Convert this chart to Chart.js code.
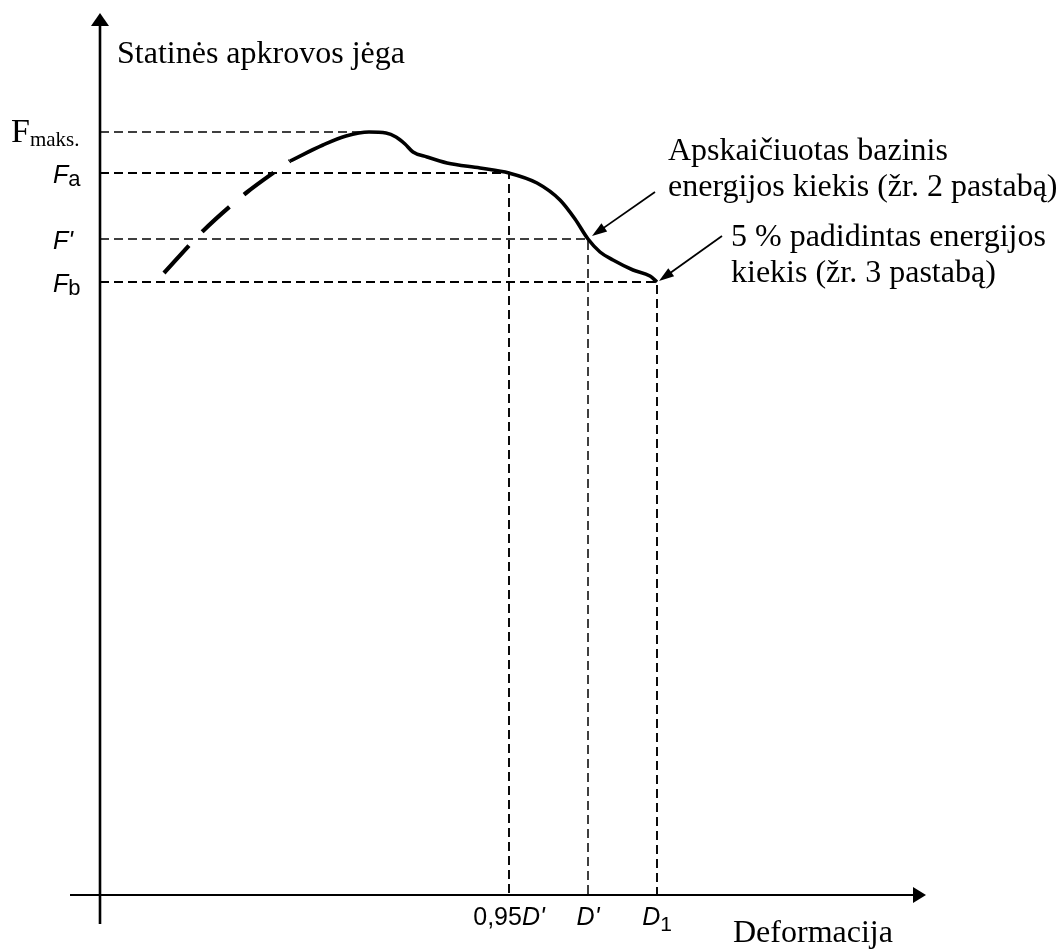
<!DOCTYPE html>
<html>
<head>
<meta charset="utf-8">
<script src="https://cdn.jsdelivr.net/npm/chart.js@4"></script>
<style>
  body { margin: 0; background: #fff; }
</style>
</head>
<body>
<canvas id="chart" width="1064" height="949"></canvas>
<script>
// rising (dashed) start of the load curve
const riseDef = [6.4, 10.3, 14.6, 19.0];
const riseForce = [62.2, 66.4, 70.2, 73.4];

// main load curve
const curveDef = [19.0, 22.3, 24.6, 26.9, 28.6, 29.6, 30.5, 31.3, 32.7, 34.7, 38.0, 40.9,
  43.7, 46.0, 47.5, 48.8, 50.0, 51.3, 53.3, 55.0, 55.7];
const curveForce = [73.4, 75.0, 75.9, 76.3, 76.2, 75.8, 75.1, 74.3, 73.8, 73.2, 72.7, 72.2,
  71.2, 69.5, 67.6, 65.6, 64.3, 63.5, 62.5, 61.9, 61.3];

// marked force levels (F maks., Fa, F', Fb) and where they meet the curve
const forceLabels = [['F', 'maks.'], ['F', 'a'], ["F'", ''], ['F', 'b']];
const forceLevels = [76.3, 72.2, 65.6, 61.3];
const deformLevels = [26.9, 40.9, 48.8, 55.7];
const deformLabels = ["0,95D'", "D'", 'D1'];

const axisTitles = ['Statinės apkrovos jėga', 'Deformacija'];
const notes = [
  ['Apskaičiuotas bazinis', 'energijos kiekis (žr. 2 pastabą)'],
  ['5 % padidintas energijos', 'kiekis (žr. 3 pastabą)']
];

const SERIF = '"Liberation Serif", "Times New Roman", serif';
const SANS = '"Liberation Sans", Arial, sans-serif';

const pts = (xs, ys) => xs.map((x, i) => ({ x: x, y: ys[i] }));

const refSets = forceLevels.map((f, i) => {
  const d = deformLevels[i];
  const data = i === 0 ? [{ x: 0, y: f }, { x: d, y: f }]
                       : [{ x: 0, y: f }, { x: d, y: f }, { x: d, y: 0 }];
  return {
    data: data,
    showLine: true,
    borderColor: '#000',
    borderWidth: (i === 1 || i === 3) ? 1.9 : 1.5,
    borderDash: [9, 5],
    tension: 0,
    pointRadius: 0
  };
});

function arrow(ctx, x1, y1, x2, y2, len, half) {
  const a = Math.atan2(y2 - y1, x2 - x1);
  ctx.beginPath();
  ctx.moveTo(x1, y1);
  ctx.lineTo(x2 - Math.cos(a) * len * 0.8, y2 - Math.sin(a) * len * 0.8);
  ctx.stroke();
  ctx.beginPath();
  ctx.moveTo(x2, y2);
  ctx.lineTo(x2 - Math.cos(a) * len - Math.sin(a) * half, y2 - Math.sin(a) * len + Math.cos(a) * half);
  ctx.lineTo(x2 - Math.cos(a) * len + Math.sin(a) * half, y2 - Math.sin(a) * len - Math.cos(a) * half);
  ctx.closePath();
  ctx.fill();
}

// draw a row of text runs, each {t, font, dy}; align 'left' or 'center'
function runs(ctx, list, x, y, align) {
  let w = 0;
  list.forEach(r => { ctx.font = r.font; w += ctx.measureText(r.t).width; });
  let cx = align === 'center' ? x - w / 2 : x;
  list.forEach(r => {
    ctx.font = r.font;
    ctx.fillText(r.t, cx, y + (r.dy || 0));
    cx += ctx.measureText(r.t).width;
  });
}

function tickRuns(label) {
  const m = label.match(/^([\d,]*)(D'?)(\d?)$/);
  const out = [];
  if (m[1]) out.push({ t: m[1], font: '25px ' + SANS });
  out.push({ t: m[2], font: 'italic 25px ' + SANS });
  if (m[3]) out.push({ t: m[3], font: '21px ' + SANS, dy: 6 });
  return out;
}

const sketch = {
  id: 'sketch',
  beforeDatasetsDraw(chart) {
    const { ctx, chartArea: ca, scales: { x, y } } = chart;
    const x0 = x.getPixelForValue(0), y0 = y.getPixelForValue(0);
    ctx.save();
    ctx.strokeStyle = '#000';
    ctx.fillStyle = '#000';
    // vertical axis
    ctx.lineWidth = 2.6;
    ctx.beginPath();
    ctx.moveTo(x0, ca.bottom);
    ctx.lineTo(x0, ca.top + 12);
    ctx.stroke();
    ctx.beginPath();
    ctx.moveTo(x0, ca.top);
    ctx.lineTo(x0 - 9, ca.top + 13);
    ctx.lineTo(x0 + 9, ca.top + 13);
    ctx.closePath();
    ctx.fill();
    // horizontal axis
    ctx.lineWidth = 2.2;
    ctx.beginPath();
    ctx.moveTo(ca.left, y0);
    ctx.lineTo(ca.right - 12, y0);
    ctx.stroke();
    ctx.beginPath();
    ctx.moveTo(ca.right, y0);
    ctx.lineTo(ca.right - 13, y0 - 8);
    ctx.lineTo(ca.right - 13, y0 + 8);
    ctx.closePath();
    ctx.fill();
    ctx.restore();
  },
  afterDatasetsDraw(chart) {
    const { ctx, scales: { x, y } } = chart;
    const x0 = x.getPixelForValue(0), y0 = y.getPixelForValue(0);
    ctx.save();
    ctx.fillStyle = '#000';
    ctx.strokeStyle = '#000';
    ctx.textBaseline = 'alphabetic';

    // axis titles
    ctx.font = '32px ' + SERIF;
    ctx.fillText(axisTitles[0], x0 + 17, 63);
    ctx.fillText(axisTitles[1], 733, y0 + 47);

    // force level labels
    forceLabels.forEach((lab, i) => {
      const py = y.getPixelForValue(forceLevels[i]);
      if (i === 0) {
        runs(ctx, [{ t: lab[0], font: '34px ' + SERIF }, { t: lab[1], font: '21px ' + SERIF, dy: 4 }],
          11, py + 10, 'left');
      } else {
        runs(ctx, [{ t: lab[0], font: 'italic 25px ' + SANS }, { t: lab[1], font: '22px ' + SANS, dy: 3 }],
          53, py + 10, 'left');
      }
    });

    // deformation tick labels
    deformLabels.forEach((lab, i) => {
      runs(ctx, tickRuns(lab), x.getPixelForValue(deformLevels[i + 1]), y0 + 30, 'center');
    });

    // notes with leader arrows
    ctx.font = '32px ' + SERIF;
    notes[0].forEach((t, k) => ctx.fillText(t, 668, 160 + k * 36));
    notes[1].forEach((t, k) => ctx.fillText(t, 731, 246 + k * 36));
    ctx.lineWidth = 1.8;
    arrow(ctx, 655, 192, x.getPixelForValue(deformLevels[2]) + 4, y.getPixelForValue(forceLevels[2]) - 3, 15, 5);
    arrow(ctx, 722, 236, x.getPixelForValue(deformLevels[3]) + 2, y.getPixelForValue(forceLevels[3]) - 1, 15, 5);
    ctx.restore();
  }
};

new Chart(document.getElementById('chart'), {
  type: 'scatter',
  data: {
    datasets: [
      {
        data: pts(riseDef, riseForce),
        showLine: true,
        borderColor: '#000',
        borderWidth: 4.2,
        borderDash: [37, 19],
        tension: 0.3,
        pointRadius: 0
      },
      {
        data: pts(curveDef, curveForce),
        showLine: true,
        borderColor: '#000',
        borderWidth: 3.6,
        cubicInterpolationMode: 'monotone',
        pointRadius: 0
      },
      ...refSets
    ]
  },
  options: {
    responsive: false,
    animation: false,
    layout: { padding: { left: 70, right: 138, top: 13, bottom: 25 } },
    scales: {
      x: { type: 'linear', display: false, min: -3, max: 82.6 },
      y: { type: 'linear', display: false, min: -2.9, max: 88.2 }
    },
    plugins: { legend: { display: false }, tooltip: { enabled: false } }
  },
  plugins: [sketch]
});
</script>
</body>
</html>
